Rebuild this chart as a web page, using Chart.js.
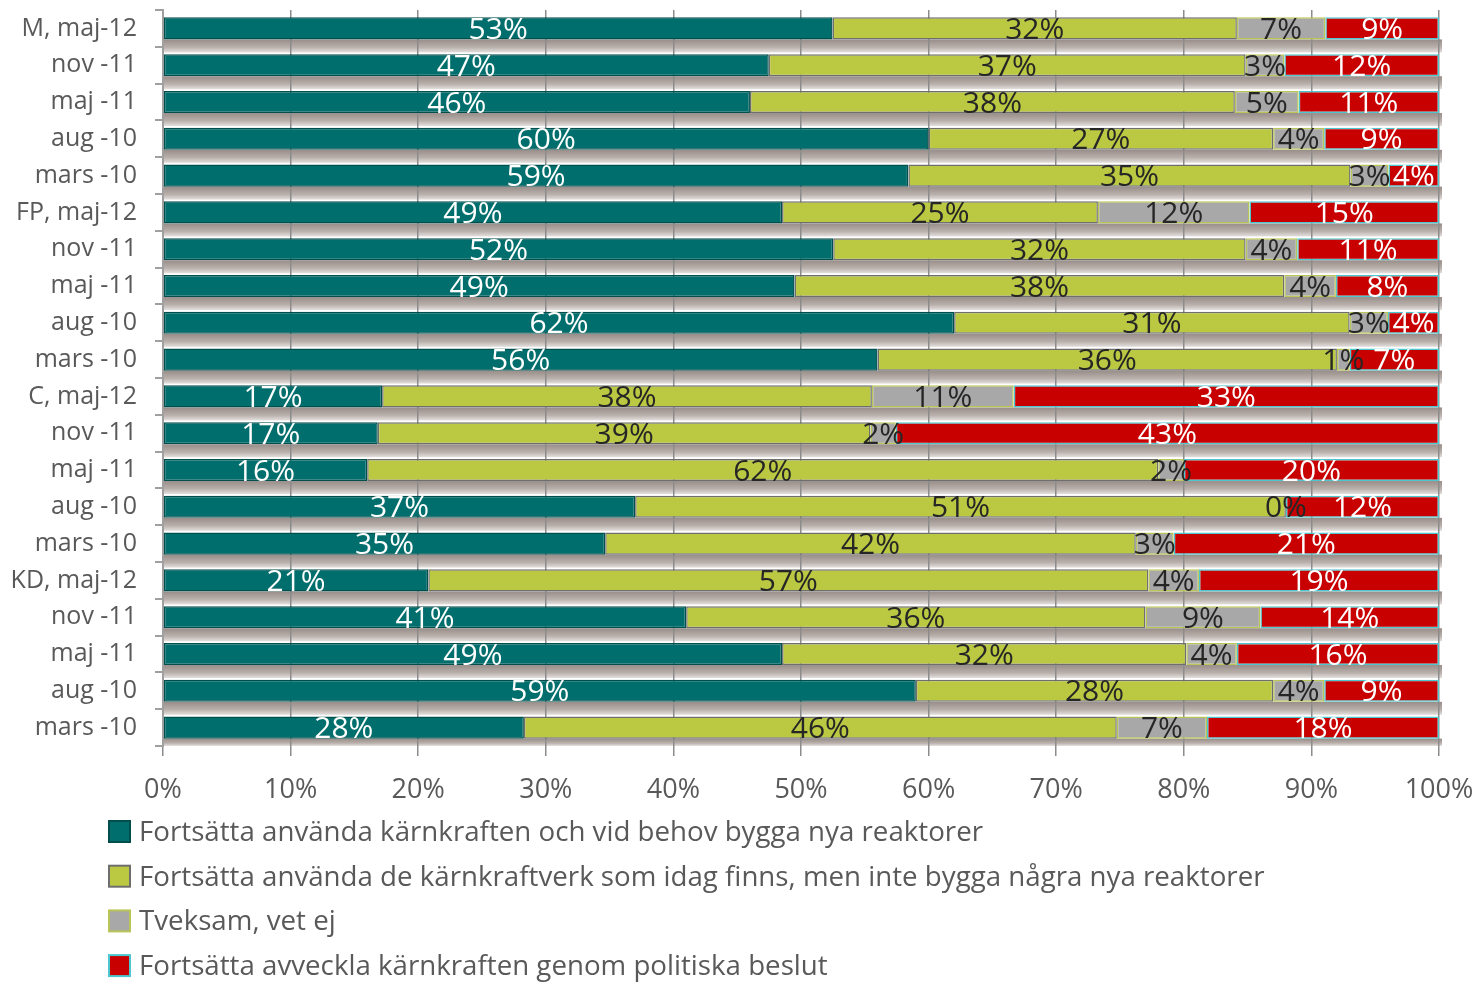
<!DOCTYPE html>
<html>
<head>
<meta charset="utf-8">
<script src="https://cdn.jsdelivr.net/npm/chart.js@4/dist/chart.umd.min.js"></script>
<style>
  html, body { margin: 0; padding: 0; background: #ffffff; }
  canvas { display: block; background: #ffffff; }
</style>
</head>
<body>
<canvas id="c" width="1479" height="982"></canvas>
<script>
const categories = ['M, maj-12','nov -11','maj -11','aug -10','mars -10',
  'FP, maj-12','nov -11','maj -11','aug -10','mars -10',
  'C, maj-12','nov -11','maj -11','aug -10','mars -10',
  'KD, maj-12','nov -11','maj -11','aug -10','mars -10'];
const seriesNames = [
  'Fortsätta använda kärnkraften och vid behov bygga nya reaktorer',
  'Fortsätta använda de kärnkraftverk som idag finns, men inte bygga några nya reaktorer',
  'Tveksam, vet ej',
  'Fortsätta avveckla kärnkraften genom politiska beslut'
];
const buildNew = [53,47,46,60,59, 49,52,49,62,56, 17,17,16,37,35, 21,41,49,59,28];
const keepExisting = [32,37,38,27,35, 25,32,38,31,36, 38,39,62,51,42, 57,36,32,28,46];
const unsure = [7,3,5,4,3, 12,4,4,3,1, 11,2,2,0,3, 4,9,4,4,7];
const phaseOut = [9,12,11,9,4, 15,11,8,4,7, 33,43,20,12,21, 19,14,16,9,18];
const xTickLabels = ['0%','10%','20%','30%','40%','50%','60%','70%','80%','90%','100%'];

const fills = ['#006e6c', '#bac842', '#a8a8a8', '#c80000'];
const borders = ['#004f4d', '#6e6e6e', '#b9c557', '#4cc7d0'];
const labelColors = ['#ffffff', '#262626', '#262626', '#ffffff'];
const FONT = '"Open Sans", sans-serif';

const raw = [buildNew, keepExisting, unsure, phaseOut];
const totals = categories.map((_, i) => raw.reduce((s, arr) => s + arr[i], 0));
const datasets = raw.map((arr, k) => ({
  label: seriesNames[k],
  data: arr.map((v, i) => v / totals[i] * 100),
  rawValues: arr,
  backgroundColor: fills[k],
  borderColor: borders[k],
  borderWidth: 1.5,
  borderSkipped: false,
  barPercentage: 0.6,
  categoryPercentage: 1.0
}));

const shadowPlugin = {
  id: 'shadow',
  beforeDraw(chart) {
    const ctx = chart.ctx;
    const { left, right, bottom } = chart.chartArea;
    const meta = chart.getDatasetMeta(0);
    ctx.save();
    meta.data.forEach((bar) => {
      const p = bar.getProps(['y', 'height'], true);
      const top = p.y + p.height / 2;
      const h = Math.min(13, bottom - top);
      const g = ctx.createLinearGradient(0, top, 0, top + h);
      g.addColorStop(0, '#988d88');
      g.addColorStop(0.6, '#b9b0ac');
      g.addColorStop(1, '#e4e0de');
      ctx.fillStyle = g;
      ctx.fillRect(left, top, right - left + 3, h);
    });
    ctx.restore();
  }
};

const labelPlugin = {
  id: 'segLabels',
  afterDatasetsDraw(chart) {
    const ctx = chart.ctx;
    ctx.save();
    ctx.font = '30px ' + FONT;
    ctx.textAlign = 'center';
    ctx.textBaseline = 'middle';
    chart.data.datasets.forEach((ds, k) => {
      const meta = chart.getDatasetMeta(k);
      ctx.fillStyle = labelColors[k];
      meta.data.forEach((bar, i) => {
        const p = bar.getProps(['x', 'y', 'base'], true);
        ctx.fillText(ds.rawValues[i] + '%', (p.x + p.base) / 2, p.y + 2);
      });
    });
    ctx.restore();
  }
};

const legendPlugin = {
  id: 'vLegend',
  afterDraw(chart) {
    const ctx = chart.ctx;
    ctx.save();
    ctx.font = '27.7px ' + FONT;
    ctx.textBaseline = 'middle';
    ctx.textAlign = 'left';
    chart.data.datasets.forEach((ds, k) => {
      const cy = 832 + k * 44.7;
      ctx.fillStyle = fills[k];
      ctx.fillRect(109, cy - 11, 21, 21);
      ctx.strokeStyle = borders[k];
      ctx.lineWidth = 2;
      ctx.strokeRect(109, cy - 11, 21, 21);
      ctx.fillStyle = '#595959';
      ctx.fillText(ds.label, 139, cy + 1);
    });
    ctx.restore();
  }
};

new Chart(document.getElementById('c'), {
  type: 'bar',
  data: { labels: categories, datasets },
  options: {
    indexAxis: 'y',
    responsive: false,
    animation: false,
    layout: { padding: { left: 0, right: 40, top: 10, bottom: 176 } },
    plugins: {
      legend: { display: false },
      tooltip: { enabled: false }
    },
    scales: {
      x: {
        stacked: true,
        min: 0,
        max: 100,
        afterFit(scale) {
          scale.height = 60;
          scale.paddingLeft = 0; scale.paddingRight = 0;
        },
        ticks: {
          stepSize: 10,
          padding: 18,
          color: '#595959',
          font: { family: FONT, size: 27 },
          callback: (v, idx) => xTickLabels[idx]
        },
        grid: { color: '#8c8c8c', lineWidth: 1.5, tickLength: 10, drawTicks: true },
        border: { display: false }
      },
      y: {
        stacked: true,
        afterFit(scale) {
          scale.width = 163;
          scale.paddingTop = 0; scale.paddingBottom = 0;
        },
        ticks: {
          padding: 18,
          color: '#595959',
          font: { family: FONT, size: 25 },
          autoSkip: false
        },
        grid: { drawOnChartArea: false, color: '#a0a0a0', lineWidth: 2, tickLength: 8, offset: true },
        border: { display: true, color: '#a0a0a0', width: 2 }
      }
    }
  },
  plugins: [shadowPlugin, labelPlugin, legendPlugin]
});
</script>
</body>
</html>
